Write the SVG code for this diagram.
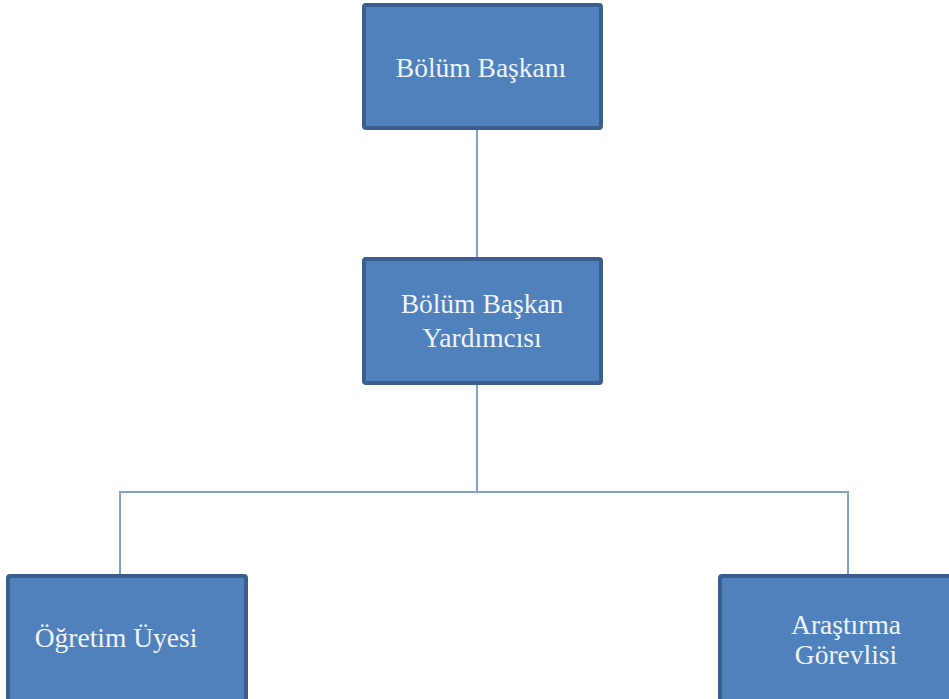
<svg xmlns="http://www.w3.org/2000/svg" width="949" height="699" viewBox="0 0 949 699">
<style>
.box{fill:#4f81bd;stroke:#3a5f8e;stroke-width:4}
.lbl{font-family:"Liberation Serif","DejaVu Serif",serif;font-size:27.5px;fill:#eef3fa;text-anchor:middle}
.con{fill:none;stroke:#7fa2cf;stroke-width:2}
</style>
<rect width="949" height="699" fill="#ffffff"/>
<g id="connectors">
<line class="con" x1="477" y1="130" x2="477" y2="258"/>
<line class="con" x1="477" y1="384" x2="477" y2="492"/>
<polyline class="con" points="120,575 120,492 848,492 848,575"/>
</g>
<g id="bolum-baskani">
<rect class="box" x="364" y="5" width="237" height="123" rx="2"/>
<text class="lbl" x="481" y="77">Bölüm Başkanı</text>
</g>
<g id="bolum-baskan-yardimcisi">
<rect class="box" x="364" y="259" width="237" height="124" rx="2"/>
<text class="lbl" x="482" y="313">Bölüm Başkan</text>
<text class="lbl" x="482" y="347">Yardımcısı</text>
</g>
<g id="ogretim-uyesi">
<rect class="box" x="8" y="576" width="238" height="130" rx="2"/>
<text class="lbl" x="116" y="647">Öğretim Üyesi</text>
</g>
<g id="arastirma-gorevlisi">
<rect class="box" x="720" y="576" width="238" height="130" rx="2"/>
<text class="lbl" x="846" y="634">Araştırma</text>
<text class="lbl" x="846" y="664">Görevlisi</text>
</g>
</svg>
